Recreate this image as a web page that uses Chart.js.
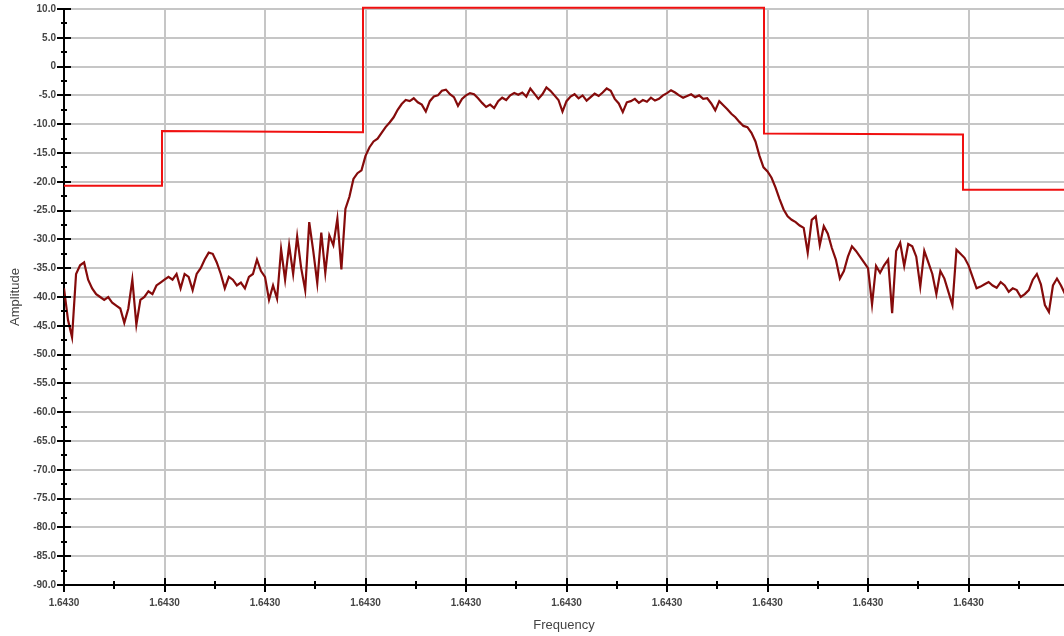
<!DOCTYPE html>
<html lang="en">
<head>
    <meta charset="UTF-8">
    <title>Spectrum Mask</title>
    <script src="https://cdn.jsdelivr.net/npm/chart.js"></script>
    <style>
        body {
            margin: 0;
            background: #fff;
        }
        #chart-container {
            width: 1064px;
            height: 636px;
        }
    </style>
</head>
<body>
    <div id="chart-container">
        <canvas id="spectrumChart" width="1064" height="636"></canvas>
    </div>

    <script>
    // Frequency axis is in grid divisions; every label reads 1.6430
    const xTickLabels = ['1.6430', '1.6430', '1.6430', '1.6430', '1.6430',
                         '1.6430', '1.6430', '1.6430', '1.6430', '1.6430'];
    const freqStep = 0.04;

    const ampLowerSkirt = [
        -38.5, -44.0, -47.0, -36.0, -34.5, -34.0, -37.0, -38.5, -39.5, -40.0,
        -40.5, -40.0, -41.0, -41.5, -42.0, -44.5, -42.0, -37.0, -44.8, -40.5,
        -40.0, -39.0, -39.5, -38.0, -37.5, -37.0, -36.5, -37.0, -36.0, -38.5,
        -36.0, -36.5, -38.8, -36.0, -35.0,
        -33.5, -32.3, -32.5, -34.0, -36.0, -38.5, -36.5, -37.0, -38.0, -37.5,
        -38.5, -36.5, -36.0, -33.5, -35.5,
        -36.5, -40.5, -38.0, -40.3, -31.7, -37.0, -31.0, -36.0, -29.5, -35.0,
        -38.8, -27.0, -32.0, -37.6, -28.8, -35.8, -29.3, -31.0, -26.4, -35.2
    ];
    const ampRise = [
        -24.7, -22.6, -19.5, -18.5, -18.0, -15.5, -14.0, -13.0, -12.5, -11.5,
        -10.5, -9.7, -8.8, -7.5, -6.5
    ];
    const ampPassband = [
        -5.8, -6.0, -5.5, -6.2, -6.6, -7.8, -6.0, -5.2, -5.0, -4.2,
        -4.0, -4.8, -5.3, -6.8, -5.6, -5.0, -4.6, -4.8, -5.5, -6.3,
        -7.0, -6.6, -7.2, -6.0, -5.4, -5.8, -5.0, -4.6, -4.9, -4.5,
        -5.2, -3.8, -4.7, -5.6, -4.8, -3.6, -4.2, -5.0, -5.8, -7.8,
        -6.0, -5.2, -4.8, -5.5, -5.0, -5.9, -5.3, -4.7, -5.1, -4.5,
        -3.8, -4.2, -5.6, -6.4, -7.9, -6.2, -6.0, -5.6, -6.3, -5.8,
        -6.1, -5.4, -5.9, -5.6, -5.0, -4.6, -4.1, -4.5, -5.0, -5.4,
        -5.1, -4.8, -5.3, -5.0, -5.6
    ];
    const ampFall = [
        -5.5, -6.4, -7.6, -6.0, -6.7, -7.4, -8.2, -8.8, -9.6, -10.3,
        -10.5, -11.5, -13.0, -15.5, -17.5,
        -18.2, -19.3, -21.0, -23.0, -24.8, -26.0, -26.6, -27.0, -27.6, -28.0
    ];
    const ampUpperSkirt = [
        -32.3, -26.6, -26.0, -31.0, -27.7, -29.0, -31.5, -33.5, -36.8, -35.5,
        -33.0, -31.2, -32.0, -33.0, -34.0,
        -35.0, -41.3, -34.6, -35.8, -34.5, -33.5, -42.8, -32.0, -30.6, -34.6,
        -30.8, -31.2, -33.0, -38.2, -32.0, -34.0, -36.0, -39.5, -35.5, -36.8,
        -39.1, -41.4, -31.8, -32.5, -33.2,
        -34.5, -36.5, -38.5, -38.2, -37.8, -37.4, -38.0, -38.4, -37.4, -38.0,
        -39.1, -38.5, -38.8, -40.0, -39.5, -38.8, -37.0, -36.0, -37.8, -41.4,
        -42.6, -38.0, -36.8, -38.0, -39.5, -42.5
    ];

    // Spectrum emission mask corners
    const maskFreq  = [0, 0.975, 0.975, 2.975, 2.975, 6.965, 6.965, 8.945, 8.945, 9.95];
    const maskLevel = [-20.7, -20.7, -11.2, -11.4, 10.2, 10.2, -11.6, -11.8, -21.4, -21.4];

    const amplitude = [].concat(ampLowerSkirt, ampRise, ampPassband, ampFall, ampUpperSkirt);
    const traceData = amplitude.map((v, i) => ({ x: i * freqStep, y: v }));
    const maskData = maskFreq.map((f, i) => ({ x: f, y: maskLevel[i] }));

    // Cross-shaped tick marks on both axes, like the analyzer display
    const axisCrosses = {
        id: 'axisCrosses',
        afterDraw(chart) {
            const { ctx, chartArea } = chart;
            const xs = chart.scales.x;
            const ys = chart.scales.y;
            ctx.save();
            ctx.strokeStyle = '#000';
            ctx.lineWidth = 2;
            ctx.beginPath();
            for (let v = -90; v <= 10; v += 2.5) {
                const py = Math.round(ys.getPixelForValue(v));
                const len = v % 5 === 0 ? 7 : 3;
                ctx.moveTo(chartArea.left - len, py);
                ctx.lineTo(chartArea.left + len, py);
            }
            for (let f = 0; f <= 9.5; f += 0.5) {
                const px = Math.round(xs.getPixelForValue(f));
                const len = f % 1 === 0 ? 7 : 4;
                ctx.moveTo(px, chartArea.bottom - len);
                ctx.lineTo(px, chartArea.bottom + len);
            }
            ctx.stroke();
            ctx.restore();
        }
    };

    const ctx = document.getElementById('spectrumChart').getContext('2d');

    new Chart(ctx, {
        type: 'line',
        data: {
            datasets: [{
                label: 'Mask',
                data: maskData,
                borderColor: '#f01010',
                borderWidth: 2,
                pointRadius: 0,
                tension: 0,
                clip: false
            }, {
                label: 'Amplitude',
                data: traceData,
                borderColor: '#850b0b',
                borderWidth: 2.2,
                pointRadius: 0,
                tension: 0
            }]
        },
        options: {
            responsive: false,
            animation: false,
            layout: {
                padding: { top: 9, right: 0, bottom: 0, left: 0 }
            },
            plugins: {
                legend: { display: false },
                tooltip: { enabled: false }
            },
            scales: {
                x: {
                    type: 'linear',
                    min: 0,
                    max: 9.95,
                    afterFit: scale => {
                        scale.height = 51;
                        scale.paddingLeft = 0;
                        scale.paddingRight = 0;
                    },
                    grid: { color: '#c6c6c6', lineWidth: 2, drawTicks: false },
                    border: { color: '#000', width: 2 },
                    ticks: {
                        stepSize: 1,
                        includeBounds: false,
                        padding: 12,
                        maxRotation: 0,
                        color: '#444',
                        font: { family: 'Arial, "Liberation Sans", sans-serif', size: 10, weight: 'bold' },
                        callback: value => xTickLabels[value] ?? ''
                    },
                    title: {
                        display: true,
                        text: 'Frequency',
                        color: '#444',
                        padding: { top: 4, bottom: 3 },
                        font: { family: 'Arial, "Liberation Sans", sans-serif', size: 13 }
                    }
                },
                y: {
                    min: -90,
                    max: 10,
                    afterFit: scale => {
                        scale.width = 64;
                        scale.paddingTop = 0;
                        scale.paddingBottom = 0;
                    },
                    grid: { color: '#c6c6c6', lineWidth: 2, drawTicks: false },
                    border: { color: '#000', width: 2 },
                    ticks: {
                        stepSize: 5,
                        padding: 8,
                        color: '#444',
                        font: { family: 'Arial, "Liberation Sans", sans-serif', size: 10, weight: 'bold' },
                        callback: value => value === 0 ? '0' : value.toFixed(1)
                    },
                    title: {
                        display: true,
                        text: 'Amplitude',
                        color: '#444',
                        padding: { top: 8, bottom: 0 },
                        font: { family: 'Arial, "Liberation Sans", sans-serif', size: 13 }
                    }
                }
            }
        },
        plugins: [axisCrosses]
    });
    </script>
</body>
</html>
